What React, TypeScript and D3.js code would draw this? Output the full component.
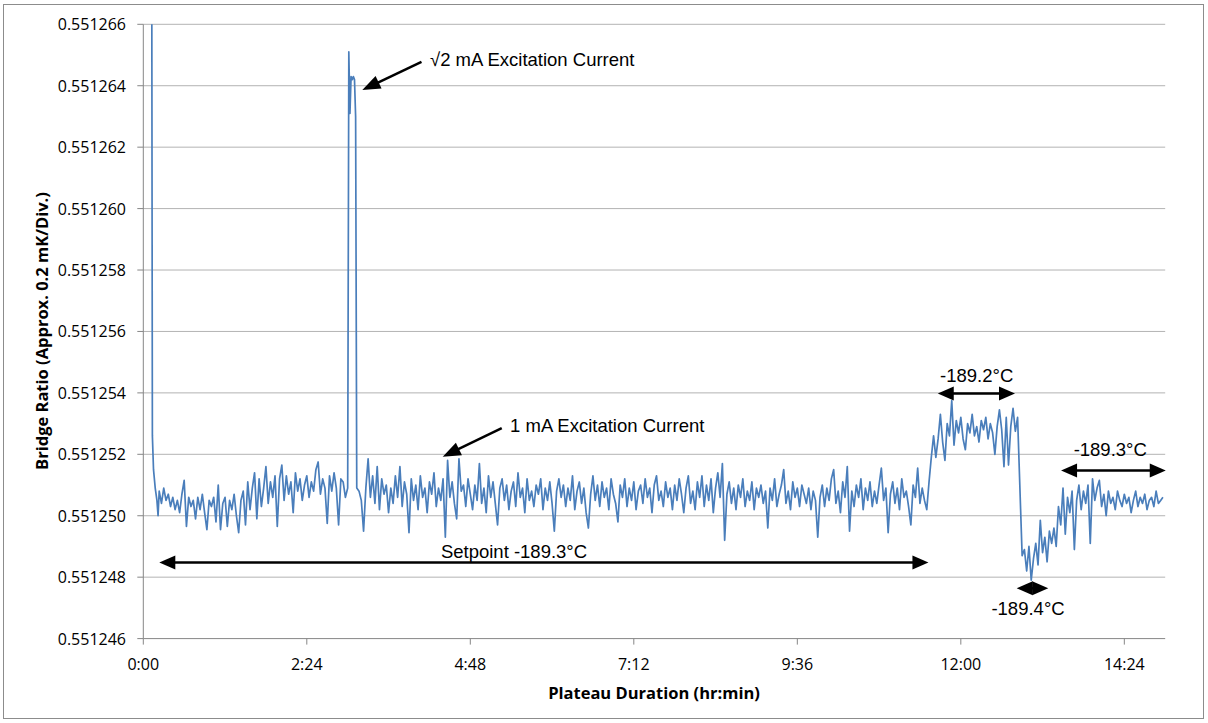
import React from 'react';
import * as d3 from 'd3';

// series values are offsets from BASE_RATIO in units of 1e-6
const BASE_RATIO = 0.55125;
const OFFSET_UNIT = 1e-6;
const STEP_MIN = 2;

const yTickValues = [0.551246, 0.551248, 0.55125, 0.551252, 0.551254, 0.551256, 0.551258, 0.55126, 0.551262, 0.551264, 0.551266];
const xTickMinutes = [0, 144, 288, 432, 576, 720, 864];
const xTickLabels = ['0:00', '2:24', '4:48', '7:12', '9:36', '12:00', '14:24'];

// [minute, offset]
const leadIn: [number, number][] = [[7, 30], [8, 2.6], [9, 1.5], [10.5, 0.9], [12, 0.5], [13, 0.0]];

const plateauAStart = 14;
const plateauA = [
  0.8, 0.4, 0.9, 0.5, 0.7, 0.3, 0.6, 0.2, 0.5, 0.1, 0.7, 1.15, -0.35, 0.6, 0.3, 0.5, -0.1, 0.6, 0.2, 0.7,
  0.1, -0.45, 0.5, 0.3, 0.6, -0.2, 1.0, -0.45, 0.4, 0.6, -0.35, 0.5, 0.2, 0.7, 0.0, -0.55, 0.5, 0.8, -0.3, 1.1,
  0.2, 0.9, 1.4, -0.1, 1.2, 0.3, 0.9, 1.6, 0.4, 1.1, 0.6, 1.3, -0.35, 1.2, 1.65, 0.5, 1.3, 0.7, 1.1, 0.1,
  1.4, 0.8, 1.2, 0.5, 1.0, 1.3, 0.6, 1.1, 0.8, 1.5, 1.75, 0.7, 1.2, 0.9, -0.25, 1.3, 0.8, 1.4, 0.9, -0.3,
  1.2, 1.1, 0.6,
];

// sqrt(2) mA excitation pulse
const pulsePoints: [number, number][] = [[180, 0.9], [181, 15.1], [182, 13.1], [183, 14.3], [184, 14.2], [185, 14.3], [186, 14.2], [187, 13.0], [188, 0.9]];

const plateauBStart = 190;
const plateauB = [
  0.8, 0.5, -0.5, 0.9, 1.85, 0.6, 1.3, 0.4, 1.6, 0.2, 1.2, 0.7, 1.0, 0.1,
  0.9, 0.4, 1.3, 0.6, 1.6, 0.3, 1.1, 0.7, -0.55, 1.2, 0.5, 1.0, 0.2, 1.3, 0.6, 0.9, 0.1, 1.1, 0.7, 1.4,
  0.3, 0.9, 0.5, 1.2, -0.7, 1.8, 0.6, 1.1, 0.4, -0.1, 1.85, 0.8, 1.0, 0.3, 1.2, 0.7, 0.2, 1.0, 0.5, 1.7,
  0.4, 0.9, 0.1, 1.3, 0.6, 1.1, 0.4, -0.3, 0.9, 1.2, 0.5, 1.0, 0.2, 0.8, 1.1, 0.3, 1.4, 0.6, 0.9, 0.1,
  1.2, 0.5, 0.8, 0.3, 1.0, 0.7, 1.2, 0.2, 0.9, 0.5, 1.1, 0.4, -0.5, 0.8, 1.2, 0.6, 1.0, 0.3, 0.9, 0.5,
  1.3, 0.2, 0.8, 1.1, 0.4, 0.9, 0.1, -0.4, 0.7, 1.3, 0.5, 1.0, 0.3, 1.1, 0.6, 0.9, 0.2, 1.2, 0.7, 0.4,
  -0.2, 1.0, 0.6, 1.2, 0.3, 0.9, 0.5, 1.1, 0.2, 0.8, 1.0, 0.4, 1.2, 0.6, 0.9, 0.1, 1.0, 1.3, 0.5,
  0.8, 0.3, 1.1, 0.6, 0.9, 0.2, 1.0, 0.5, 1.2, 0.7, 0.1, 0.9, 1.3, 0.4, 0.8, 0.2, 1.1, 0.6, 1.3, 0.3,
  1.0, 0.5, 1.2, 0.1, 0.9, 1.4, 0.6, 1.7, -0.8, 0.7, 1.1, 0.4, 0.9, 0.2, 1.0, 0.6, 1.2, 0.3, 0.8, 0.5,
  1.1, 0.2, 0.9, 0.6, 1.0, 0.4, 0.8, -0.4, 0.9, 0.5, 1.2, 0.3, 0.7, 1.0, 1.5, 0.4, 0.8, 0.2, 1.1, 0.6,
  0.9, 0.3, 1.0, 0.7, 0.4, 0.9, 0.2, 0.8, 0.5, -0.7, 0.6, 1.0, 0.3, 0.9, 0.5, 1.2, 1.5, 0.4, 0.8, 0.1,
  1.1, 0.6, 1.6, -0.5, 0.8, 0.3, 1.0, 0.6, 1.2, 0.2, 0.9, 0.5, 1.1, 0.3, 0.8, 0.4, 1.0, 1.55, 0.5, 0.9,
  -0.55, 0.7, 1.1, 0.4, 0.9, 0.2, 1.2, 0.6, 0.8, 0.3, -0.3, 1.0, 0.6, 1.55, 0.4, 0.9, 0.5, 0.2,
];

// setpoint raised to -189.2 °C
const warmStart = 692;
const warmStep = [
  1.1, 1.9, 2.6, 1.9, 2.5, 3.3, 2.4, 1.8, 3.0, 2.6, 3.75, 2.3, 3.1, 2.7, 3.2, 2.5, 2.15, 3.0, 2.7, 3.3,
  2.6, 2.9, 2.4, 3.1, 2.8, 3.2, 2.5, 3.0, 2.7, 2.0, 2.9, 3.45, 2.8, 1.6, 3.2, 1.65, 2.9, 3.5, 2.75, 3.2,
];

// setpoint lowered to -189.4 °C, then back to -189.3 °C
const coolStart = 774;
const coolStep = [
  -1.3, -1.1, -1.8, -1.0, -2.1, -1.4, -0.9, -1.6, -0.15, -1.2, -0.7, -1.5, -0.5, -0.9, -0.4, -1.0, 0.3, -0.3, 0.9, -0.6,
  0.6, 0.1, 0.8, -1.1, 0.5, 1.0, 0.2, 0.8, 0.4, 1.0, -0.9, 1.2, 0.5, 0.9, 1.15, 0.3, 0.7, 0.0, 0.8, 0.4,
  0.6, 0.2, 0.8, 0.5, 0.3, 0.7, 0.4, 0.6, 0.1, 0.5, 0.8, 0.3, 0.6, 0.4, 0.7, 0.2, 0.5, 0.6, 0.3, 0.8,
  0.4, 0.5, 0.6,
];

type Ann = { from: [number, number]; to: [number, number]; both: boolean };
const annotationArrows: Ann[] = [
  { from: [245, 14.78], to: [192.9, 13.86], both: false },
  { from: [315.7, 2.85], to: [263.7, 1.92], both: false },
  { from: [14.1, -1.52], to: [691.5, -1.52], both: true },
  { from: [699.7, 3.98], to: [767.7, 3.98], both: true },
  { from: [808.3, 1.47], to: [900.5, 1.47], both: true },
  { from: [769.2, -2.36], to: [797, -2.36], both: true },
];
const annotationLabels: { text: string; at: [number, number]; anchor: string }[] = [
  { text: '√2 mA Excitation Current', at: [252.5, 14.86], anchor: 'start' },
  { text: '1 mA Excitation Current', at: [323, 2.95], anchor: 'start' },
  { text: 'Setpoint -189.3°C', at: [326.5, -1.16], anchor: 'middle' },
  { text: '-189.2°C', at: [734, 4.58], anchor: 'middle' },
  { text: '-189.3°C', at: [851.6, 2.16], anchor: 'middle' },
  { text: '-189.4°C', at: [779.2, -3.01], anchor: 'middle' },
];

const W = 1208;
const H = 723;
const plot = { left: 143.3, right: 1165.2, top: 24.3, bottom: 638.6 };
const tickFont = '"Open Sans", sans-serif';
const noteFont = '"Liberation Sans", Arial, sans-serif';

function buildSeries(): [number, number][] {
  const pts: [number, number][] = [];
  leadIn.forEach(p => pts.push(p));
  plateauA.forEach((v, i) => pts.push([plateauAStart + i * STEP_MIN, v]));
  pulsePoints.forEach(p => pts.push(p));
  plateauB.forEach((v, i) => pts.push([plateauBStart + i * STEP_MIN, v]));
  warmStep.forEach((v, i) => pts.push([warmStart + i * STEP_MIN, v]));
  coolStep.forEach((v, i) => pts.push([coolStart + i * STEP_MIN, v]));
  return pts.map(([m, o]) => [m, BASE_RATIO + o * OFFSET_UNIT]);
}

function arrowShapes(x1: number, y1: number, x2: number, y2: number, both: boolean, len: number, half: number) {
  const dx = x2 - x1, dy = y2 - y1;
  const L = Math.hypot(dx, dy);
  const ux = dx / L, uy = dy / L;
  const px = -uy, py = ux;
  const head = (tx: number, ty: number, dirx: number, diry: number) => {
    const bx = tx - dirx * len, by = ty - diry * len;
    return `${tx},${ty} ${bx + px * half},${by + py * half} ${bx - px * half},${by - py * half}`;
  };
  const heads = [head(x2, y2, ux, uy)];
  if (both) heads.push(head(x1, y1, -ux, -uy));
  const sx = both ? x1 + ux * len * 0.8 : x1;
  const sy = both ? y1 + uy * len * 0.8 : y1;
  const ex = x2 - ux * len * 0.8, ey = y2 - uy * len * 0.8;
  return { line: [sx, sy, ex, ey], heads };
}

export default function App() {
  const x = d3.scaleLinear().domain([0, 900]).range([plot.left, plot.right]);
  const y = d3.scaleLinear().domain([0.551246, 0.551266]).range([plot.bottom, plot.top]);
  const yo = (o: number) => y(BASE_RATIO + o * OFFSET_UNIT);

  const series = buildSeries();
  const line = d3.line<[number, number]>().x(d => x(d[0])).y(d => y(d[1]));

  return (
    <svg width={W} height={H} style={{ position: 'absolute', left: 0, top: 0, background: '#fff' }}>
      <rect x={3.5} y={4.5} width={1200} height={714} fill="#fff" stroke="#8c8c8c" />
      <defs>
        <clipPath id="plotClip">
          <rect x={plot.left} y={plot.top} width={plot.right - plot.left} height={plot.bottom - plot.top} />
        </clipPath>
      </defs>

      {yTickValues.map(v => (
        <g key={v}>
          <line x1={plot.left} x2={plot.right} y1={y(v)} y2={y(v)} stroke={v === 0.551246 ? '#868686' : '#b3b3b3'} strokeWidth={1} />
          <line x1={plot.left - 6} x2={plot.left} y1={y(v)} y2={y(v)} stroke="#868686" />
          <text x={126} y={y(v)} textAnchor="end" dominantBaseline="central" fontFamily={tickFont} fontSize={16} fill="#000">
            {v.toFixed(6)}
          </text>
        </g>
      ))}
      <line x1={plot.left} x2={plot.left} y1={plot.top} y2={plot.bottom} stroke="#868686" />

      {xTickMinutes.map((m, i) => (
        <g key={m}>
          <line x1={x(m)} x2={x(m)} y1={plot.bottom} y2={plot.bottom + 6} stroke="#868686" />
          <text x={x(m)} y={664} textAnchor="middle" dominantBaseline="central" fontFamily={tickFont} fontSize={16} fill="#000">
            {xTickLabels[i]}
          </text>
        </g>
      ))}

      <path d={line(series) || ''} fill="none" stroke="#4a7ebb" strokeWidth={1.7} strokeLinejoin="round" clipPath="url(#plotClip)" />

      {annotationArrows.map((a, i) => {
        const s = arrowShapes(x(a.from[0]), yo(a.from[1]), x(a.to[0]), yo(a.to[1]), a.both, a.both ? 16 : 18, 7);
        return (
          <g key={i}>
            <line x1={s.line[0]} y1={s.line[1]} x2={s.line[2]} y2={s.line[3]} stroke="#000" strokeWidth={2.5} />
            {s.heads.map((h, j) => <polygon key={j} points={h} fill="#000" />)}
          </g>
        );
      })}
      {annotationLabels.map((l, i) => (
        <text key={i} x={x(l.at[0])} y={yo(l.at[1])} textAnchor={l.anchor} dominantBaseline="central" fontFamily={noteFont} fontSize={18.5} fill="#000">
          {l.text}
        </text>
      ))}

      <text x={654} y={692} textAnchor="middle" dominantBaseline="central" fontFamily={tickFont} fontWeight="bold" fontSize={16.5} fill="#000">
        Plateau Duration (hr:min)
      </text>
      <text transform="translate(41,331) rotate(-90)" textAnchor="middle" dominantBaseline="central" fontFamily={tickFont} fontWeight="bold" fontSize={16.5} fill="#000">
        Bridge Ratio (Approx. 0.2 mK/Div.)
      </text>
    </svg>
  );
}
